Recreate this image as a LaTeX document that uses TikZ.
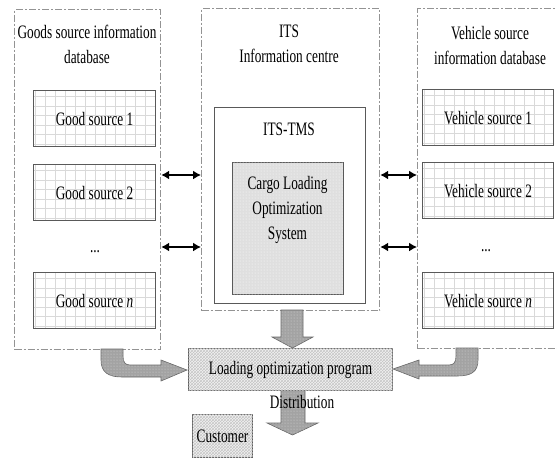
\documentclass[tikz,border=0pt]{standalone}
\usepackage{fontspec}
\setmainfont{Liberation Serif}[FakeStretch=0.7]
\usetikzlibrary{arrows.meta,patterns}
\begin{document}
\begin{tikzpicture}[x=1pt,y=-1pt,
  every node/.style={font=\fontsize{19}{25}\selectfont, inner sep=0pt, align=center},
  outerbox/.style={draw=gray!85, line width=1.2pt, dash pattern=on 7pt off 2pt on 2pt off 2pt, anchor=north west},
  srcbox/.style={draw=black!65, line width=1.1pt, anchor=north west, fill=white,
     minimum width=122pt, minimum height=56pt,
     path picture={\draw[gray!30, line width=0.6pt, xstep=10pt, ystep=9.5pt] (path picture bounding box.south west) grid (path picture bounding box.north east);}},
  plainbox/.style={draw=black!65, line width=1.1pt, anchor=north west, fill=white},
  dotbox/.style={draw=black!65, line width=1.1pt, anchor=north west, fill=gray!25,
     postaction={pattern=dots, pattern color=white}},
  hatchbox/.style={draw=black!65, line width=1.1pt, anchor=north west, fill=gray!10,
     postaction={pattern=crosshatch, pattern color=gray!45}},
  dbl/.style={line width=1.4pt, {Latex[length=8pt,width=9pt]}-{Latex[length=8pt,width=9pt]}},
  blockarrow/.style={draw=black!60, line width=0.6pt, fill=gray!72,
     postaction={pattern=dots, pattern color=gray!30}},
  label/.style={anchor=center}
]
\useasboundingbox (0,0) rectangle (557,459);

% outer boxes
\node[outerbox, minimum width=146pt, minimum height=340pt] (gdb) at (14,9) {};
\node[outerbox, minimum width=178pt, minimum height=302pt] (its) at (201,8) {};
\node[outerbox, minimum width=150pt, minimum height=340pt] (vdb) at (417,8) {};

% headers
\node[label] (gdbt) at (87,44) {Goods source information\\database};
\node[label] (itst) at (289,44) {ITS\\Information centre};
\node[label] (vdbt) at (490,45) {Vehicle source\\information database};

% goods sources
\node[srcbox] (g1) at (33,90) {Good source 1};
\node[srcbox] (g2) at (33,164) {Good source 2};
\node[label] (gdots) at (95,252) {...};
\node[srcbox] (gn) at (33,272) {Good source \textit{n}};

% vehicle sources
\node[srcbox, minimum width=131pt] (v1) at (422,89) {Vehicle source 1};
\node[srcbox, minimum width=131pt] (v2) at (422,162) {Vehicle source 2};
\node[label] (vdots) at (486,251) {...};
\node[srcbox, minimum width=131pt] (vn) at (422,272) {Vehicle source \textit{n}};

% ITS-TMS
\node[plainbox, minimum width=151pt, minimum height=196pt] (tms) at (214,107) {};
\node[label] (tmst) at (289,129) {ITS-TMS};
\node[dotbox, minimum width=111pt, minimum height=132pt] (clos) at (232,162) {};
\node[label] (clost) at (287.5,210) {Cargo Loading\\Optimization\\System};

% double arrows
\draw[dbl] (gdb.east |- 0,175) -- (its.west |- 0,175);
\draw[dbl] (gdb.east |- 0,247) -- (its.west |- 0,247);
\draw[dbl] (its.east |- 0,175) -- (vdb.west |- 0,175);
\draw[dbl] (its.east |- 0,247) -- (vdb.west |- 0,247);

% block arrows
\draw[blockarrow] (281,310) -- (281,337) -- (272,337) -- (292.5,348) -- (313,337) -- (303,337) -- (303,310) -- cycle;
\draw[blockarrow] (281,386) -- (281,423) -- (267,423) -- (292.5,435) -- (318,423) -- (305,423) -- (305,386) -- cycle;
\draw[blockarrow] (101,349) -- (101,360) .. controls (101,372) and (108,377) .. (122,377) -- (161,377) -- (161,381) -- (187,370) -- (161,360) -- (161,365) -- (130,365) .. controls (125,365) and (123,362) .. (123,356) -- (123,349) -- cycle;
\draw[blockarrow] (478,348) -- (478,360) .. controls (478,372) and (471,376) .. (457,376) -- (419,376) -- (419,379) -- (393,369) -- (419,360) -- (419,365) -- (449,365) .. controls (454,365) and (456,362) .. (456,356) -- (456,348) -- cycle;

% loading program and customer
\node[hatchbox, minimum width=204pt, minimum height=42pt] (load) at (188,348) {Loading optimization program};
\node[label] (distt) at (302,402) {Distribution};
\node[hatchbox, minimum width=60pt, minimum height=43pt] (cust) at (192,414) {Customer};
\end{tikzpicture}
\end{document}
